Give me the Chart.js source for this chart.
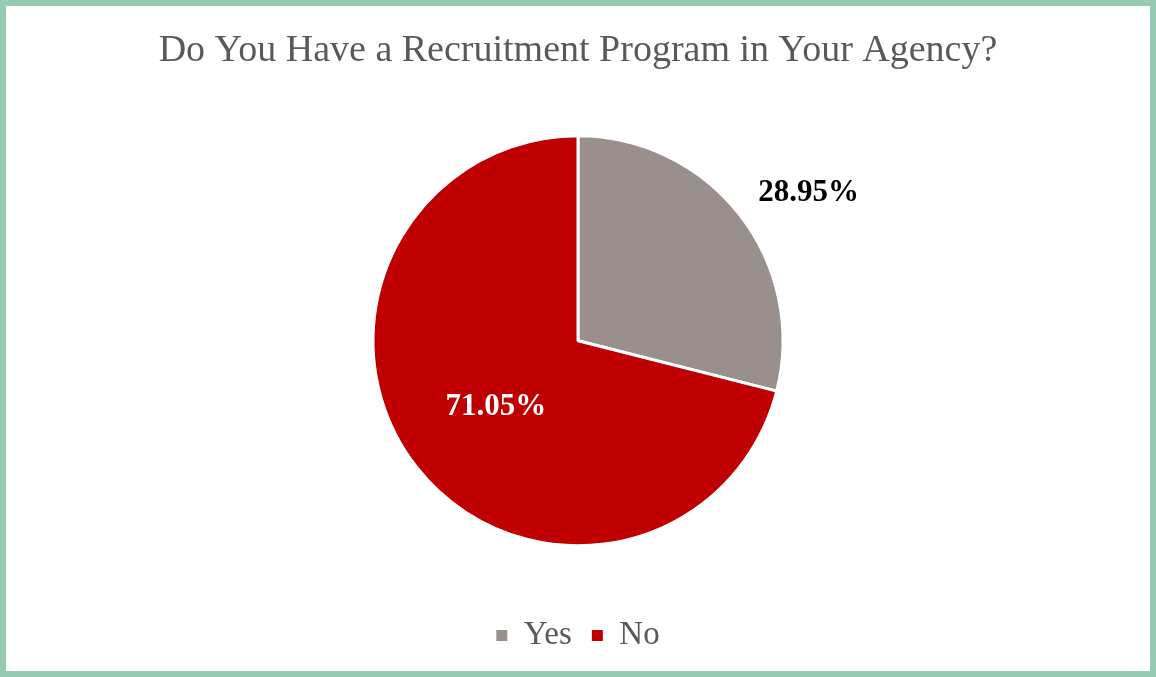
<!DOCTYPE html>
<html>
<head>
<meta charset="utf-8">
<script src="https://cdn.jsdelivr.net/npm/chart.js@4.4.1/dist/chart.umd.min.js"></script>
<style>
  html, body { margin: 0; padding: 0; background: #fff; }
  .frame {
    width: 1156px; height: 677px; box-sizing: border-box;
    border: 6px solid #97cab3; background: #fff;
  }
  .frame canvas { display: block; }
</style>
</head>
<body>
<div class="frame"><canvas id="pie" width="1144" height="665"></canvas></div>
<script>
  /* recruitment program survey — share of agencies */
  const labels = ['Yes', 'No'];
  const shares = [28.95, 71.05];
  const colors = ['#998f8c', '#c00000'];

  const SERIF = '"Liberation Serif", "Times New Roman", serif';
  const TEXT = '#595959';

  /* percent labels: first slice sits outside the rim, second inside */
  const sliceLabels = {
    id: 'sliceLabels',
    afterDatasetsDraw(chart) {
      const ctx = chart.ctx;
      const meta = chart.getDatasetMeta(0);
      ctx.save();
      ctx.font = 'bold 31px ' + SERIF;
      ctx.textAlign = 'center';
      ctx.textBaseline = 'middle';
      meta.data.forEach((arc, i) => {
        const p = arc.getProps(['x', 'y', 'startAngle', 'endAngle', 'outerRadius'], true);
        const mid = (p.startAngle + p.endAngle) / 2;
        const outside = i === 0;
        const r = p.outerRadius * (outside ? 1.337 : 0.516);
        const ang = outside ? mid + 0.09 : mid - 0.02;
        ctx.fillStyle = outside ? '#000' : '#fff';
        ctx.fillText(shares[i].toFixed(2) + '%', p.x + Math.cos(ang) * r, p.y + Math.sin(ang) * r);
      });
      ctx.restore();
    }
  };

  new Chart(document.getElementById('pie'), {
    type: 'pie',
    data: {
      labels,
      datasets: [{
        data: shares,
        backgroundColor: colors,
        borderColor: '#fff',
        borderWidth: 3,
        radius: 205,
      }],
    },
    options: {
      responsive: false,
      animation: false,
      layout: { padding: { top: 0, bottom: 9 } },
      plugins: {
        title: {
          display: true,
          text: 'Do You Have a Recruitment Program in Your Agency?',
          color: TEXT,
          font: { family: SERIF, size: 38, weight: 'normal' },
          padding: { top: 22, bottom: 9 },
        },
        legend: {
          position: 'bottom',
          labels: {
            color: TEXT,
            font: { family: SERIF, size: 33 },
            boxWidth: 11, boxHeight: 11,
            padding: 20,
            generateLabels(chart) {
              return Chart.overrides.pie.plugins.legend.labels.generateLabels(chart)
                .map(l => Object.assign(l, { lineWidth: 0, strokeStyle: l.fillStyle }));
            },
          },
        },
        tooltip: { enabled: false },
      },
    },
    plugins: [sliceLabels],
  });
</script>
</body>
</html>
